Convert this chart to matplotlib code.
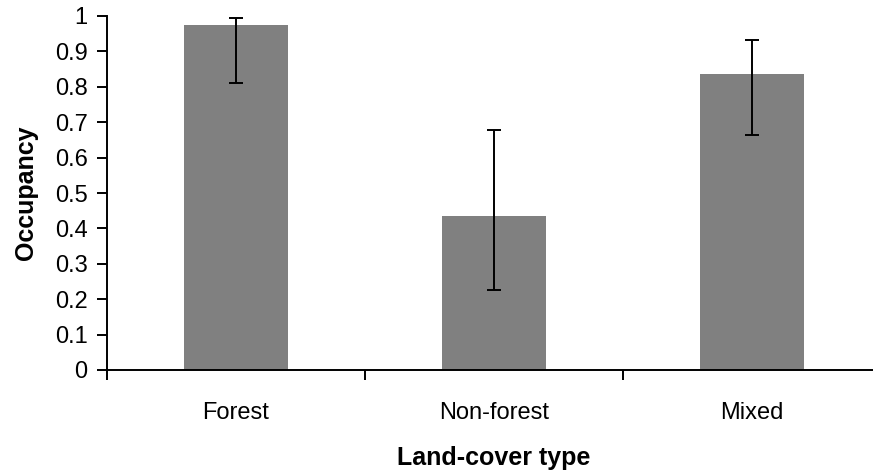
import matplotlib
matplotlib.use('Agg')
import matplotlib.pyplot as plt
import numpy as np

categories = ['Forest', 'Non-forest', 'Mixed']
occupancy = [0.975, 0.435, 0.836]
err_low = [0.81, 0.226, 0.665]
err_high = [0.993, 0.678, 0.932]

plt.rcParams['font.family'] = ['Liberation Sans', 'DejaVu Sans']

fig = plt.figure(figsize=(8.73, 4.75), dpi=100)
# right edge runs past the figure, like the reference
ax = fig.add_axes([107/873, (475-370)/475, 774/873, 354/475])

x = np.arange(len(categories))
yerr = [np.array(occupancy) - np.array(err_low), np.array(err_high) - np.array(occupancy)]
ax.bar(x, occupancy, width=0.40, color='#808080', zorder=2)
ax.errorbar(x, occupancy, yerr=yerr, fmt='none', ecolor='black',
            elinewidth=1.4, capsize=5, capthick=1.4, zorder=3)

ax.set_xlim(-0.5, len(categories) - 0.5)
ax.set_ylim(0, 1)
ax.set_yticks(np.arange(0, 1.01, 0.1))
ax.set_yticklabels(['0'] + ['%.1f' % v for v in np.arange(0.1, 0.95, 0.1)] + ['1'])

ax.set_xticks(x)
ax.set_xticklabels(categories)
ax.set_xticks(np.arange(-0.5, len(categories), 1), minor=True)
ax.tick_params(axis='x', which='major', length=0, pad=23, labelsize=17)
ax.tick_params(axis='x', which='minor', length=7, width=1.4, direction='out')
ax.tick_params(axis='y', length=7, width=1.4, direction='out', pad=7, labelsize=17)

for s in ['top', 'right']:
    ax.spines[s].set_visible(False)
for s in ['left', 'bottom']:
    ax.spines[s].set_linewidth(1.4)

ax.set_ylabel('Occupancy', fontsize=18, fontweight='bold', labelpad=12)
ax.set_xlabel('Land-cover type', fontsize=18, fontweight='bold', labelpad=16)

fig.savefig('out.png', dpi=100)
